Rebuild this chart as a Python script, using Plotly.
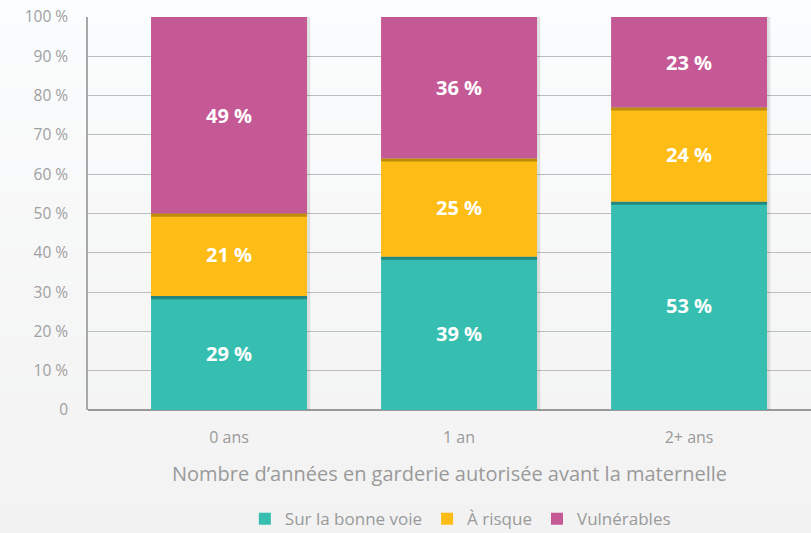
import plotly.graph_objects as go

categories = ["0 ans", "1 an", "2+ ans"]
sur_la_bonne_voie = [29, 39, 53]
a_risque = [21, 25, 24]
vulnerables = [49, 36, 23]
y_tickvals = [0, 10, 20, 30, 40, 50, 60, 70, 80, 90, 100]
y_ticktext = ["0", "10 %", "20 %", "30 %", "40 %", "50 %", "60 %", "70 %", "80 %", "90 %", "100 %"]

TEAL = "#36BFB1"
YELLOW = "#FDBD16"
PINK = "#C55996"
BW = 0.678

base_y = [s for s in sur_la_bonne_voie]
base_p = [s + r for s, r in zip(sur_la_bonne_voie, a_risque)]
pink_h = [100 - b for b in base_p]

fig = go.Figure()

# soft shadow behind each bar
fig.add_trace(go.Bar(x=categories, y=[101.2] * 3, base=[-1.0] * 3, width=BW + 0.012,
                     marker=dict(color="rgba(0,0,0,0.10)", line=dict(width=0)),
                     showlegend=False, hoverinfo="skip", offset=-BW / 2 + 0.002))

txtfont = dict(color="white", size=20, family="Open Sans", weight="bold")

fig.add_trace(go.Bar(name="Sur la bonne voie", x=categories, y=sur_la_bonne_voie, base=[0] * 3,
                     width=BW, marker=dict(color=TEAL, line=dict(width=0)),
                     text=[f"{v} %" for v in sur_la_bonne_voie], textposition="inside",
                     insidetextanchor="middle", textfont=txtfont, textangle=0))
fig.add_trace(go.Bar(name="À risque", x=categories, y=a_risque, base=base_y,
                     width=BW, marker=dict(color=YELLOW, line=dict(width=0)),
                     text=[f"{v} %" for v in a_risque], textposition="inside",
                     insidetextanchor="middle", textfont=txtfont, textangle=0))
fig.add_trace(go.Bar(name="Vulnérables", x=categories, y=pink_h, base=base_p,
                     width=BW, marker=dict(color=PINK, line=dict(width=0)),
                     text=[f"{v} %" for v in vulnerables], textposition="inside",
                     insidetextanchor="middle", textfont=txtfont, textangle=0))

# shadow strips at segment boundaries
fig.add_trace(go.Bar(x=categories, y=[0.8] * 3, base=[b - 0.8 for b in base_y], width=BW,
                     marker=dict(color="rgba(20,90,85,0.55)", line=dict(width=0)),
                     showlegend=False, hoverinfo="skip"))
fig.add_trace(go.Bar(x=categories, y=[0.8] * 3, base=[b - 0.8 for b in base_p], width=BW,
                     marker=dict(color="rgba(140,100,0,0.55)", line=dict(width=0)),
                     showlegend=False, hoverinfo="skip"))

# background gradient
shapes = []
n = 30
y0, y1 = -0.33, 1.06
for i in range(n):
    t = i / (n - 1)
    r = round(0xF2 + (0xFB - 0xF2) * t)
    g = round(0xF2 + (0xFC - 0xF2) * t)
    b = round(0xF2 + (0xFD - 0xF2) * t)
    shapes.append(dict(type="rect", xref="paper", yref="paper", layer="below",
                       x0=-0.2, x1=1.05,
                       y0=y0 + (y1 - y0) * i / n, y1=y0 + (y1 - y0) * (i + 1) / n + 0.002,
                       fillcolor=f"rgb({r},{g},{b})", line=dict(width=0)))

fig.update_layout(
    width=811, height=533,
    barmode="overlay",
    paper_bgcolor="#f4f4f4",
    plot_bgcolor="rgba(0,0,0,0)",
    margin=dict(l=88, r=0, t=17, b=123, autoexpand=False),
    font=dict(family="Open Sans", color="#9a9a9a"),
    shapes=shapes,
    xaxis=dict(range=[-0.613, 2.53], showgrid=False, zeroline=False,
               showline=False, ticks="", tickfont=dict(size=16, color="#9a9a9a"),
               ticklabelstandoff=16, automargin=False,
               title=dict(text="Nombre d’années en garderie autorisée avant la maternelle",
                          font=dict(size=20, color="#9a9a9a"), standoff=19)),
    yaxis=dict(range=[0, 100], tickvals=y_tickvals, ticktext=y_ticktext,
               showgrid=True, gridcolor="#bdbdbd", gridwidth=1.3,
               zeroline=True, zerolinecolor="#9a9a9a", zerolinewidth=1.5,
               showline=True, linecolor="#a8a8a8", linewidth=1.5,
               ticks="", ticklabelstandoff=15, automargin=False,
               tickfont=dict(size=15.5, color="#a0a0a0")),
    legend=dict(orientation="h", x=0.515, xanchor="center", y=-0.232, yanchor="top",
                font=dict(size=17, color="#9a9a9a"), bgcolor="rgba(0,0,0,0)",
                itemwidth=30, traceorder="normal"),
    showlegend=True,
)

fig.write_html("out.html", config={"displayModeBar": False},
               post_script="document.body.style.margin='0';document.body.style.overflow='hidden';")
